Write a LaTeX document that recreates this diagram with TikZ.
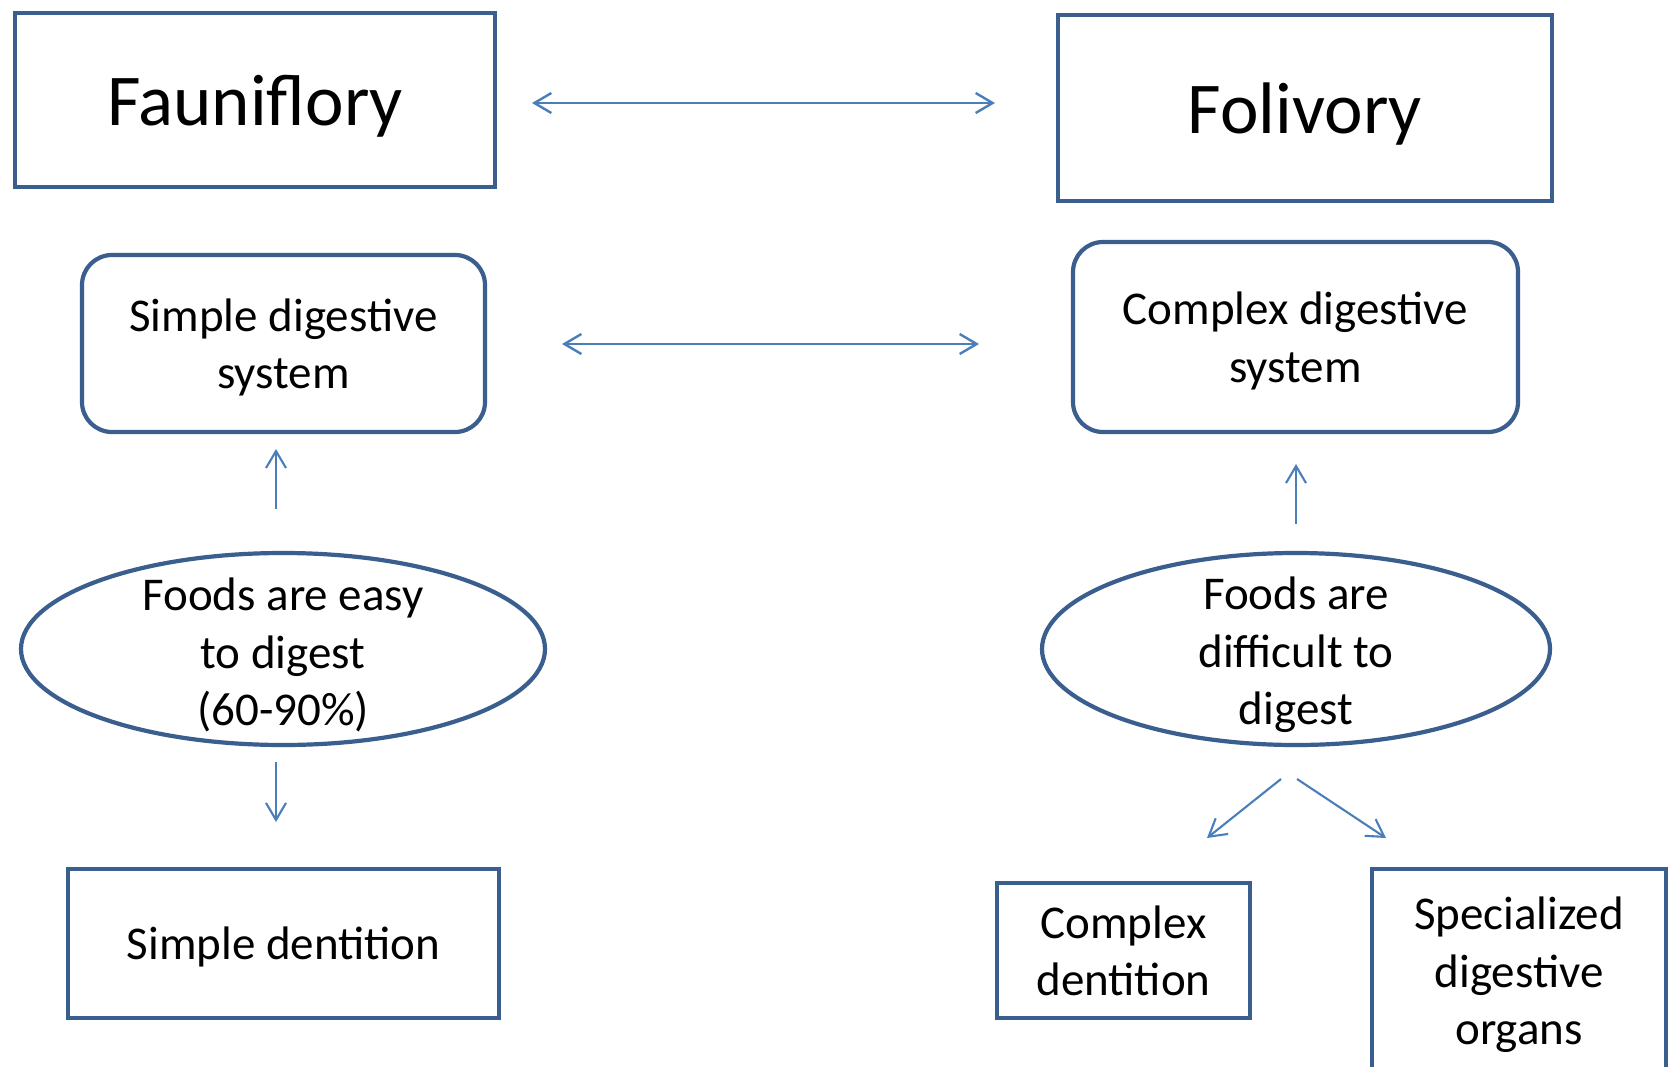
\documentclass[tikz,border=0pt]{standalone}
\usepackage{fontspec}
\setmainfont{Carlito}
\usetikzlibrary{shapes.geometric,arrows.meta}
\definecolor{boxblue}{HTML}{3A5E8E}
\definecolor{arrblue}{HTML}{4A7EBB}
\tikzset{
  shapebox/.style={draw=boxblue, line width=4.2pt, fill=white, inner sep=0pt, align=center, text depth=0pt, font=\fontsize{47}{57.5}\selectfont},
  bigbox/.style={shapebox, font=\fontsize{73}{88}\selectfont},
  roundbox/.style={shapebox, rounded corners=30pt},
  ellbox/.style={draw=boxblue, line width=4.2pt, fill=white, ellipse, inner sep=0pt},
  lbl/.style={inner sep=0pt, align=center, font=\fontsize{47}{57.5}\selectfont},
  conn/.style={draw=arrblue, line width=2.1pt, arrows={-Straight Barb[length=17pt,width=20pt]}},
  dconn/.style={draw=arrblue, line width=2.4pt, arrows={Straight Barb[length=17pt,width=20pt]-Straight Barb[length=17pt,width=20pt]}}
}
\begin{document}
\begin{tikzpicture}[x=1pt,y=-1pt]
\useasboundingbox (0,0) rectangle (1669,1067);
\fill[white] (0,0) rectangle (1669,1067);
\clip (0,0) rectangle (1669,1067);

\node[bigbox, minimum width=480pt, minimum height=174pt] (fau) at (255,100) {Fauniflory};
\node[bigbox, minimum width=494pt, minimum height=186pt] (fol) at (1305,108) {Folivory};

\node[roundbox, minimum width=403pt, minimum height=177pt] (sds) at (283.5,343.5) {Simple digestive\\system};
\node[roundbox, minimum width=445pt, minimum height=190pt] (cds) at (1295.5,337) {Complex digestive\\system};

\node[ellbox, minimum width=524pt, minimum height=192pt] (e1) at (283,649) {};
\node[lbl] (e1t) at ([yshift=-6pt]e1.center) {Foods are easy\\to digest\\(60-90\%)};
\node[ellbox, minimum width=508pt, minimum height=192pt] (e2) at (1296,649) {};
\node[lbl] (e2t) at ([yshift=-6pt]e2.center) {Foods are\\difficult to\\digest};

\node[shapebox, minimum width=431pt, minimum height=149pt] (sd) at (283.5,943.5) {Simple dentition};
\node[shapebox, minimum width=253pt, minimum height=135pt, text depth=-7pt] (cd) at (1123.5,950.5) {Complex\\dentition};
\node[shapebox, minimum width=294pt, minimum height=204pt] (so) at (1519,971) {Specialized\\digestive\\organs};

% connector end points
\coordinate (a1s) at (532,103);
\coordinate (a1e) at (995,103);
\coordinate (a2s) at (562,344);
\coordinate (a2e) at (979,344);
\coordinate (u1s) at (276,509);
\coordinate (u1e) at (276,449);
\coordinate (u2s) at (1296,524);
\coordinate (u2e) at (1296,464);
\coordinate (d1s) at (276,762);
\coordinate (d1e) at (276,822);
\coordinate (s1s) at (1281,779);
\coordinate (s1e) at (1207,838);
\coordinate (s2s) at (1297,779);
\coordinate (s2e) at (1386,838);

\draw[dconn] (a1s) -- (a1e);
\draw[dconn] (a2s) -- (a2e);
\draw[conn] (u1s) -- (u1e);
\draw[conn] (u2s) -- (u2e);
\draw[conn] (d1s) -- (d1e);
\draw[conn] (s1s) -- (s1e);
\draw[conn] (s2s) -- (s2e);
\end{tikzpicture}
\end{document}
